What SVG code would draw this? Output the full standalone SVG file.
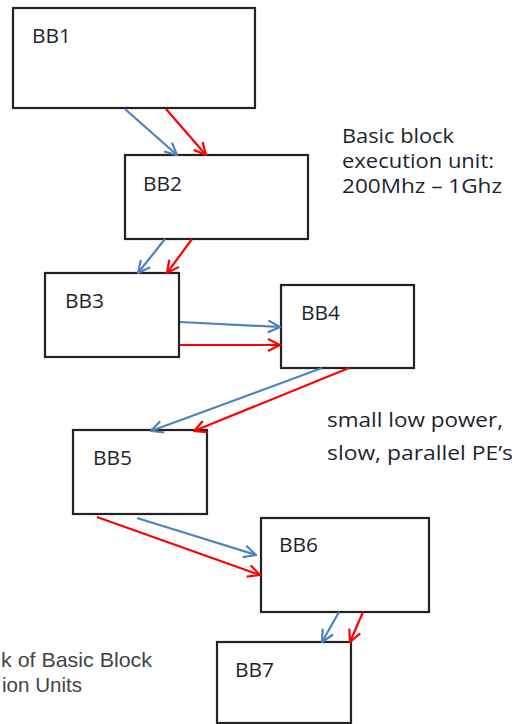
<svg xmlns="http://www.w3.org/2000/svg" width="516" height="724" viewBox="0 0 516 724">
<style>
.box{fill:#fff;stroke:#222;stroke-width:2.2}
.lbl{font-family:"Open Sans","Liberation Sans",Arial,sans-serif;font-size:20px;fill:#1f1f2f}
.note{font-family:"Open Sans","Liberation Sans",Arial,sans-serif;font-size:20px;fill:#1f1f2f}
.cap{font-family:"Liberation Sans",Arial,sans-serif;font-size:21px;fill:#444}
.blue{stroke:#4F81BD;stroke-width:2.2;fill:none;marker-end:url(#ab)}
.red{stroke:#FF0000;stroke-width:2.2;fill:none;marker-end:url(#ar)}
</style>
<defs>
<marker id="ab" viewBox="0 0 14 14" refX="13" refY="7" markerWidth="14" markerHeight="14" markerUnits="userSpaceOnUse" orient="auto">
<path d="M1,1 L13,7 L1,13" fill="none" stroke="#4F81BD" stroke-width="2.2"/>
</marker>
<marker id="ar" viewBox="0 0 14 14" refX="13" refY="7" markerWidth="14" markerHeight="14" markerUnits="userSpaceOnUse" orient="auto">
<path d="M1,1 L13,7 L1,13" fill="none" stroke="#FF0000" stroke-width="2.2"/>
</marker>
</defs>
<rect width="516" height="724" fill="#fff"/>
<g id="BB1"><rect class="box" x="13" y="8" width="242" height="100"/><text class="lbl" x="32" y="43" textLength="39" lengthAdjust="spacingAndGlyphs">BB1</text></g>
<g id="BB2"><rect class="box" x="125" y="155" width="183" height="84"/><text class="lbl" x="143" y="191" textLength="39" lengthAdjust="spacingAndGlyphs">BB2</text></g>
<g id="BB3"><rect class="box" x="45" y="273" width="134" height="84"/><text class="lbl" x="65" y="308" textLength="39" lengthAdjust="spacingAndGlyphs">BB3</text></g>
<g id="BB4"><rect class="box" x="281" y="285" width="133" height="83"/><text class="lbl" x="301" y="320" textLength="39" lengthAdjust="spacingAndGlyphs">BB4</text></g>
<g id="BB5"><rect class="box" x="73" y="430" width="134" height="84"/><text class="lbl" x="93" y="465" textLength="39" lengthAdjust="spacingAndGlyphs">BB5</text></g>
<g id="BB6"><rect class="box" x="261" y="518" width="168" height="94"/><text class="lbl" x="279" y="552" textLength="39" lengthAdjust="spacingAndGlyphs">BB6</text></g>
<g id="BB7"><rect class="box" x="217" y="642" width="134" height="81"/><text class="lbl" x="235" y="677" textLength="39" lengthAdjust="spacingAndGlyphs">BB7</text></g>
<g id="connectors">
<line class="blue" x1="125" y1="109" x2="177" y2="155"/>
<line class="red" x1="166" y1="109" x2="206" y2="155"/>
<line class="blue" x1="165" y1="239" x2="138" y2="273"/>
<line class="red" x1="192" y1="239" x2="167" y2="273"/>
<line class="blue" x1="180" y1="322" x2="280" y2="327"/>
<line class="red" x1="180" y1="345" x2="280" y2="345"/>
<line class="blue" x1="322" y1="368" x2="151" y2="431"/>
<line class="red" x1="349" y1="368" x2="194" y2="431"/>
<line class="blue" x1="137" y1="518" x2="256" y2="555"/>
<line class="red" x1="97" y1="517" x2="260" y2="575"/>
<line class="blue" x1="339" y1="612" x2="322" y2="642"/>
<line class="red" x1="363" y1="612" x2="350" y2="642"/>
</g>
<g id="notes">
<text class="note" x="342" y="143" textLength="112" lengthAdjust="spacingAndGlyphs">Basic block</text>
<text class="note" x="342" y="168" textLength="152" lengthAdjust="spacingAndGlyphs">execution unit:</text>
<text class="note" x="342" y="193" textLength="160" lengthAdjust="spacingAndGlyphs">200Mhz – 1Ghz</text>
<text class="note" x="327" y="427" textLength="176" lengthAdjust="spacingAndGlyphs">small low power,</text>
<text class="note" x="327" y="460" textLength="186" lengthAdjust="spacingAndGlyphs">slow, parallel PE’s</text>
<text class="cap" x="1" y="667" textLength="151" lengthAdjust="spacingAndGlyphs">k of Basic Block</text>
<text class="cap" x="2" y="692" textLength="80" lengthAdjust="spacingAndGlyphs">ion Units</text>
</g>
</svg>
